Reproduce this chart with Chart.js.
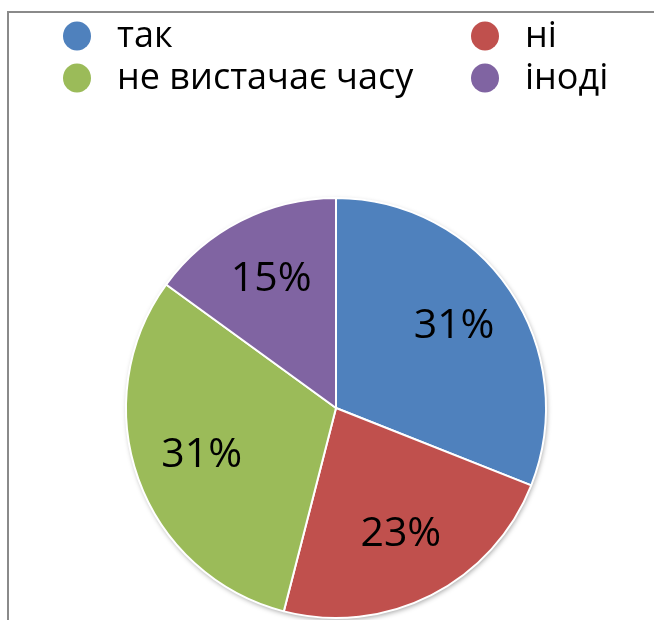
<!DOCTYPE html>
<html>
<head>
<meta charset="utf-8">
<script src="https://cdn.jsdelivr.net/npm/chart.js@4/dist/chart.umd.min.js"></script>
<style>
    body { margin: 0; background: #ffffff; }
    #contenedor { position: relative; width: 654px; height: 620px; }
</style>
</head>
<body>
<div id="contenedor">
    <canvas id="grafico" width="654" height="620"></canvas>
</div>
<script>
let categorias = ['так', 'ні', 'не вистачає часу', 'іноді'];
let valores = [31, 23, 31, 15];
let colores = ['#4F81BD', '#C0504D', '#9BBB59', '#8064A2'];

let fuente = '"Open Sans", "Noto Sans", sans-serif';

// marco gris del area del grafico (solo arriba e izquierda quedan a la vista)
let pluginMarco = {
    id: 'marco',
    beforeDraw: function(chart) {
        let ctx = chart.ctx;
        ctx.save();
        ctx.strokeStyle = '#8a8a8a';
        ctx.lineWidth = 2;
        ctx.beginPath();
        ctx.moveTo(8, 620);
        ctx.lineTo(8, 12);
        ctx.lineTo(654, 12);
        ctx.stroke();
        ctx.restore();
    }
};

// sombra suave debajo del circulo
let pluginSombra = {
    id: 'sombra',
    beforeDatasetsDraw: function(chart) {
        let ctx = chart.ctx;
        let arco = chart.getDatasetMeta(0).data[0];
        ctx.save();
        ctx.shadowColor = 'rgba(0,0,0,0.35)';
        ctx.shadowBlur = 5;
        ctx.shadowOffsetX = 1;
        ctx.shadowOffsetY = 2;
        ctx.fillStyle = '#ffffff';
        ctx.beginPath();
        ctx.arc(arco.x, arco.y, arco.outerRadius, 0, Math.PI * 2);
        ctx.fill();
        ctx.restore();
    }
};

// porcentajes dentro de cada porcion
let pluginEtiquetas = {
    id: 'etiquetas',
    afterDatasetsDraw: function(chart) {
        let ctx = chart.ctx;
        let meta = chart.getDatasetMeta(0);
        let total = 0;
        for (let i = 0; i < valores.length; i++) {
            total = total + valores[i];
        }
        ctx.save();
        ctx.fillStyle = '#000000';
        ctx.font = '41px ' + fuente;
        ctx.textAlign = 'center';
        ctx.textBaseline = 'middle';
        for (let i = 0; i < meta.data.length; i++) {
            let arco = meta.data[i];
            let medio = (arco.startAngle + arco.endAngle) / 2;
            let r = arco.outerRadius * 0.68;
            let x = arco.x + Math.cos(medio) * r;
            let y = arco.y + Math.sin(medio) * r - 1;
            let texto = Math.round(valores[i] / total * 100) + '%';
            ctx.fillText(texto, x, y);
        }
        ctx.restore();
    }
};

// leyenda en dos columnas
let pluginLeyenda = {
    id: 'leyendaGrid',
    afterDraw: function(chart) {
        let ctx = chart.ctx;
        let columnas = [77, 485];
        let filas = [47, 89];
        ctx.save();
        ctx.font = '36px ' + fuente;
        ctx.textBaseline = 'alphabetic';
        ctx.textAlign = 'left';
        for (let i = 0; i < categorias.length; i++) {
            let cx = columnas[i % 2];
            let base = filas[Math.floor(i / 2)];
            ctx.fillStyle = colores[i];
            ctx.beginPath();
            ctx.ellipse(cx, base - 11, 14, 14.5, 0, 0, Math.PI * 2);
            ctx.fill();
            ctx.fillStyle = '#000000';
            ctx.fillText(categorias[i], cx + 40, base);
        }
        ctx.restore();
    }
};

new Chart(document.getElementById('grafico'), {
    type: 'pie',
    data: {
        labels: categorias,
        datasets: [{
            data: valores,
            backgroundColor: colores,
            borderColor: '#ffffff',
            borderWidth: 2
        }]
    },
    options: {
        responsive: false,
        animation: false,
        layout: {
            padding: { left: 125, right: 107, top: 197, bottom: 1 }
        },
        plugins: {
            legend: { display: false },
            tooltip: { enabled: false }
        }
    },
    plugins: [pluginMarco, pluginSombra, pluginEtiquetas, pluginLeyenda]
});
</script>
</body>
</html>
